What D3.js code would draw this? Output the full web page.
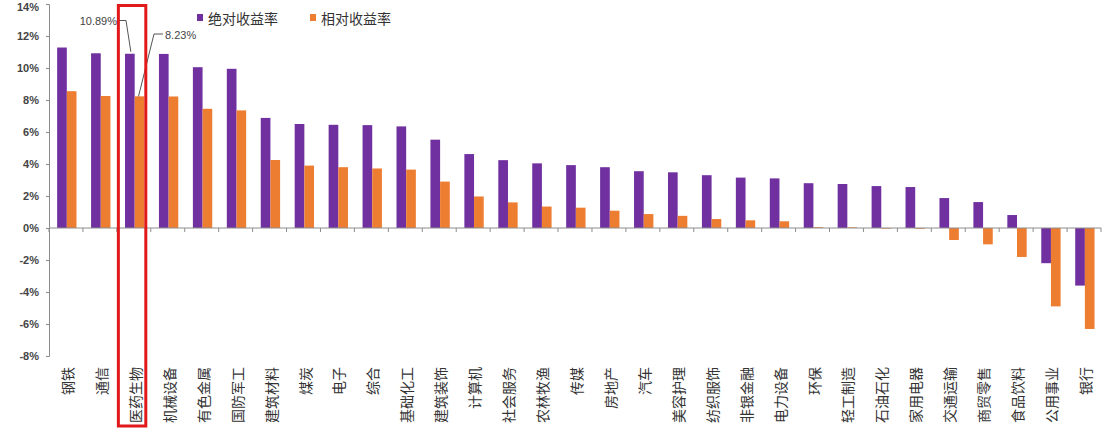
<!DOCTYPE html>
<html>
<head>
<meta charset="utf-8">
<script src="https://cdn.jsdelivr.net/npm/d3@7"></script>
<style>
  body { margin: 0; background: #fff; }
  svg { display: block; }
</style>
</head>
<body>
<svg id="chart" width="1110" height="435"></svg>
<script>
// data (percent)
const categories = ['钢铁','通信','医药生物','机械设备','有色金属','国防军工','建筑材料','煤炭','电子','综合','基础化工','建筑装饰','计算机','社会服务','农林牧渔','传媒','房地产','汽车','美容护理','纺织服饰','非银金融','电力设备','环保','轻工制造','石油石化','家用电器','交通运输','商贸零售','食品饮料','公用事业','银行'];
const absReturn = [11.28, 10.92, 10.89, 10.88, 10.05, 9.95, 6.88, 6.5, 6.45, 6.43, 6.35, 5.52, 4.62, 4.24, 4.04, 3.93, 3.8, 3.55, 3.48, 3.3, 3.15, 3.1, 2.8, 2.75, 2.62, 2.56, 1.87, 1.62, 0.81, -2.2, -3.6];
const relReturn = [8.55, 8.25, 8.23, 8.22, 7.45, 7.35, 4.25, 3.9, 3.8, 3.72, 3.65, 2.9, 1.97, 1.6, 1.34, 1.27, 1.08, 0.87, 0.76, 0.56, 0.48, 0.42, 0.05, 0.04, -0.04, -0.05, -0.75, -1.02, -1.81, -4.9, -6.31];
const seriesNames = ['绝对收益率', '相对收益率'];
const yTicks = [-8, -6, -4, -2, 0, 2, 4, 6, 8, 10, 12, 14];
const highlight = '医药生物';

const colors = d3.scaleOrdinal().domain(seriesNames).range(['#7030a0', '#ed7d31']);
const cjk = '"Noto Sans CJK SC", sans-serif';
const latin = '"Liberation Sans", Arial, sans-serif';

const svg = d3.select('#chart');

const x = d3.scaleBand().domain(categories).range([49, 1101]);
const bw = x.bandwidth();
const xs = d3.scaleBand().domain(seriesNames).range([bw * 0.24, bw * 0.81]);
const y = d3.scaleLinear().domain([-8, 14]).range([356, 4]);

const rows = categories.map((c, i) => ({ cat: c, vals: [absReturn[i], relReturn[i]] }));

// bars
const groups = svg.append('g')
  .selectAll('g')
  .data(rows)
  .join('g')
  .attr('transform', d => `translate(${x(d.cat)},0)`);

groups.selectAll('rect')
  .data(d => d.vals.map((v, k) => ({ name: seriesNames[k], v })))
  .join('rect')
  .attr('x', d => xs(d.name))
  .attr('width', xs.bandwidth())
  .attr('y', d => y(Math.max(0, d.v)))
  .attr('height', d => Math.abs(y(d.v) - y(0)))
  .attr('fill', d => colors(d.name));

// y axis
const yAxis = svg.append('g')
  .attr('transform', `translate(49,0)`)
  .call(d3.axisLeft(y).tickValues(yTicks).tickSize(3).tickPadding(7).tickFormat(d => d + '%'));
yAxis.select('.domain').attr('stroke', '#8c8c8c');
yAxis.selectAll('.tick line').attr('stroke', '#8c8c8c');
yAxis.selectAll('text')
  .attr('font-family', latin)
  .attr('font-size', 11)
  .attr('font-weight', 'bold')
  .attr('fill', '#444')
  // top label sits against the edge, nudge it inside
  .attr('dy', d => d === 14 ? '0.62em' : '0.32em');

// x axis at zero line, ticks between categories
const xAxisG = svg.append('g').attr('transform', `translate(0,${y(0)})`);
xAxisG.append('line')
  .attr('x1', x.range()[0]).attr('x2', x.range()[1])
  .attr('stroke', '#8c8c8c');
xAxisG.selectAll('line.tk')
  .data(categories.concat(['__end']))
  .join('line')
  .attr('class', 'tk')
  .attr('x1', (d, i) => x.range()[0] + i * bw)
  .attr('x2', (d, i) => x.range()[0] + i * bw)
  .attr('y1', 0).attr('y2', 4)
  .attr('stroke', '#8c8c8c');

// category labels, rotated
svg.append('g')
  .selectAll('text')
  .data(categories)
  .join('text')
  .attr('transform', d => `translate(${x(d) + bw / 2 + 1},367) rotate(-90)`)
  .attr('text-anchor', 'end')
  .attr('dominant-baseline', 'central')
  .attr('font-family', cjk)
  .attr('font-size', 14)
  .attr('fill', '#333')
  .text(d => d);

// legend
const legend = svg.append('g')
  .selectAll('g')
  .data(seriesNames)
  .join('g')
  .attr('transform', (d, i) => `translate(${197 + i * 113},0)`);
legend.append('rect')
  .attr('x', 0).attr('y', 14).attr('width', 6).attr('height', 7)
  .attr('fill', d => colors(d));
legend.append('text')
  .attr('x', 11).attr('y', 18)
  .attr('dominant-baseline', 'central')
  .attr('font-family', cjk)
  .attr('font-size', 14)
  .attr('fill', '#333')
  .text(d => d);

// callouts on the highlighted category
const hi = categories.indexOf(highlight);
const topAbs = [x(highlight) + xs(seriesNames[0]) + xs.bandwidth() / 2 + 1, y(absReturn[hi]) - 2];
const topRel = [x(highlight) + xs(seriesNames[1]) + xs.bandwidth() / 2 - 1, y(relReturn[hi])];

svg.append('path')
  .attr('d', d3.line()([[118, 20.5], [126, 20.5], topAbs]))
  .attr('fill', 'none').attr('stroke', '#555').attr('stroke-width', 1);
svg.append('path')
  .attr('d', d3.line()([[163, 34], [154, 34], topRel]))
  .attr('fill', 'none').attr('stroke', '#555').attr('stroke-width', 1);

svg.append('text')
  .attr('x', 117).attr('y', 25)
  .attr('text-anchor', 'end')
  .attr('font-family', latin).attr('font-size', 11).attr('fill', '#444')
  .text(absReturn[hi].toFixed(2) + '%');
svg.append('text')
  .attr('x', 165).attr('y', 39)
  .attr('font-family', latin).attr('font-size', 11).attr('fill', '#444')
  .text(relReturn[hi].toFixed(2) + '%');

// red highlight box
svg.append('rect')
  .attr('x', x(highlight) + 1.5)
  .attr('y', 5.5)
  .attr('width', bw - 6.5)
  .attr('height', 420.5)
  .attr('fill', 'none')
  .attr('stroke', '#e0191b')
  .attr('stroke-width', 3);
</script>
</body>
</html>
